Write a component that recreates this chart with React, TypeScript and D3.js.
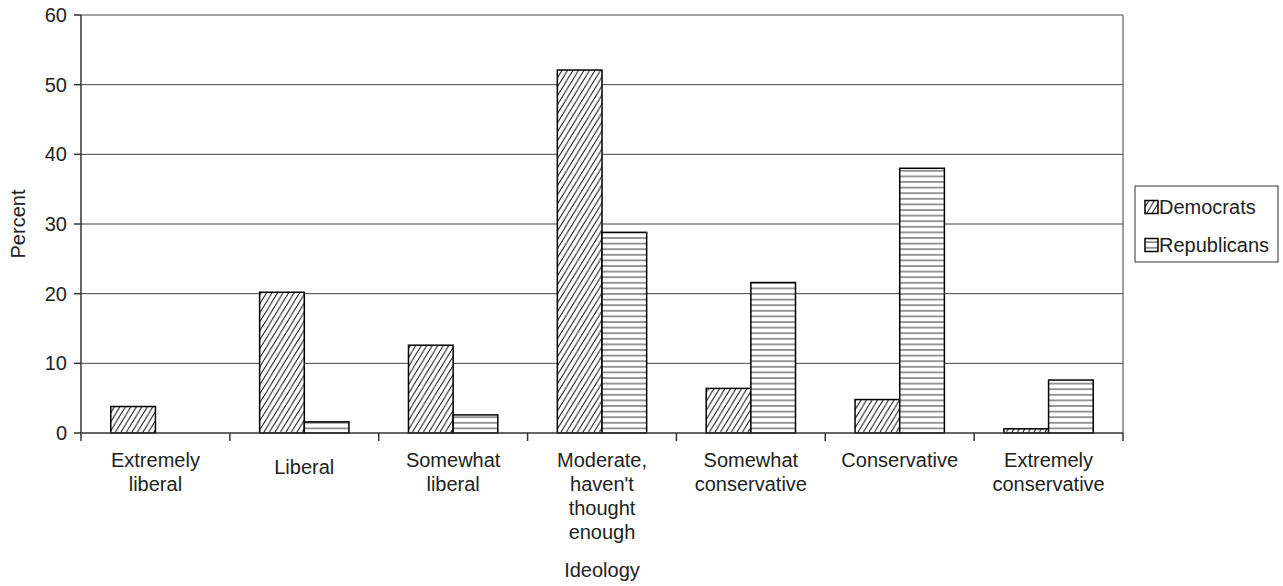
import React from 'react';
import * as d3 from 'd3';

// ideology categories, each label split into its wrapped lines
const categories = [
  'Extremely liberal',
  'Liberal',
  'Somewhat liberal',
  "Moderate, haven't thought enough",
  'Somewhat conservative',
  'Conservative',
  'Extremely conservative'
];
const categoryLines = [
  ['Extremely', 'liberal'],
  ['Liberal'],
  ['Somewhat', 'liberal'],
  ['Moderate,', "haven't", 'thought', 'enough'],
  ['Somewhat', 'conservative'],
  ['Conservative'],
  ['Extremely', 'conservative']
];
const seriesNames = ['Democrats', 'Republicans'];
const democrats = [3.8, 20.2, 12.6, 52.1, 6.4, 4.8, 0.6];
const republicans = [0, 1.6, 2.6, 28.8, 21.6, 38.0, 7.6];
const yTicks = [0, 10, 20, 30, 40, 50, 60];

const W = 1283;
const H = 586;
const margin = { left: 81, right: 160, top: 15, bottom: 153 };
const FONT = 'Liberation Sans, Arial, sans-serif';

const App: React.FC = () => {
  const x = d3.scaleBand<string>()
    .domain(categories)
    .range([margin.left, W - margin.right])
    .paddingInner(0)
    .paddingOuter(0);

  const xSeries = d3.scaleBand<string>()
    .domain(seriesNames)
    .range([0, x.bandwidth()])
    .paddingInner(0)
    .paddingOuter(2 / 3);

  const y = d3.scaleLinear()
    .domain([0, 60])
    .range([H - margin.bottom, margin.top]);

  const x0 = margin.left;
  const x1 = W - margin.right;
  const y0 = y(0);

  const values = [democrats, republicans];
  const fills = ['url(#hatch-diag)', 'url(#hatch-horiz)'];

  // single-line labels sit a little lower in the original
  const labelShift: Record<string, number> = { Liberal: 7 };

  return (
    <svg width={W} height={H} style={{ position: 'absolute', left: 0, top: 0, background: '#fff' }}
      fontFamily={FONT}>
      <defs>
        <pattern id="hatch-diag" patternUnits="userSpaceOnUse" width={5.5} height={9}>
          <rect width={5.5} height={9} fill="#fff" />
          <path d="M0,9 L5.5,0 M-5.5,9 L0,0 M5.5,9 L11,0" stroke="#111" strokeWidth={1} />
        </pattern>
        <pattern id="hatch-horiz" patternUnits="userSpaceOnUse" width={8} height={5.6}>
          <rect width={8} height={5.6} fill="#fff" />
          <line x1={0} x2={8} y1={2.8} y2={2.8} stroke="#333" strokeWidth={1} />
        </pattern>
      </defs>

      {/* gridlines */}
      {yTicks.filter(t => t > 0).map(t => (
        <line key={t} x1={x0} x2={x1} y1={y(t)} y2={y(t)} stroke="#444" strokeWidth={1} />
      ))}
      {/* right frame */}
      <line x1={x1} x2={x1} y1={y(60)} y2={y0} stroke="#444" strokeWidth={1} />

      {/* bars */}
      {values.map((vals, si) =>
        vals.map((v, ci) => {
          const bx = (x(categories[ci]) ?? 0) + (xSeries(seriesNames[si]) ?? 0);
          if (v <= 0) return null;
          return (
            <rect key={`${si}-${ci}`} x={bx} y={y(v)} width={xSeries.bandwidth()} height={y0 - y(v)}
              fill={fills[si]} stroke="#000" strokeWidth={1.5} />
          );
        })
      )}

      {/* y axis */}
      <line x1={x0} x2={x0} y1={y(60)} y2={y0} stroke="#333" strokeWidth={1.5} />
      {yTicks.map(t => (
        <g key={t}>
          <line x1={x0 - 7} x2={x0} y1={y(t)} y2={y(t)} stroke="#333" strokeWidth={1.5} />
          <text x={x0 - 14} y={y(t)} dy="0.35em" textAnchor="end" fontSize={20} fill="#222">{t}</text>
        </g>
      ))}

      {/* x axis */}
      <line x1={x0} x2={x1} y1={y0} y2={y0} stroke="#333" strokeWidth={1.5} />
      {categories.map(c => (
        <line key={c} x1={x(c)} x2={x(c)} y1={y0} y2={y0 + 8} stroke="#333" strokeWidth={1.5} />
      ))}
      <line x1={x1} x2={x1} y1={y0} y2={y0 + 8} stroke="#333" strokeWidth={1.5} />

      {categories.map((c, i) => (
        <text key={c} textAnchor="middle" fontSize={20} fill="#222">
          {categoryLines[i].map((ln, li) => (
            <tspan key={li} x={(x(c) ?? 0) + x.bandwidth() / 2}
              y={y0 + 34 + li * 24 + (categoryLines[i].length === 1 ? (labelShift[ln] ?? 0) : 0)}>
              {ln}
            </tspan>
          ))}
        </text>
      ))}

      <text x={(x0 + x1) / 2} y={577} textAnchor="middle" fontSize={20} fill="#222">Ideology</text>
      <text transform={`translate(25,${(y(0) + y(60)) / 2}) rotate(-90)`} textAnchor="middle"
        fontSize={20} fill="#222">Percent</text>

      {/* legend */}
      <g>
        <rect x={1135} y={186} width={143} height={76} fill="#fff" stroke="#333" strokeWidth={1} />
        {seriesNames.map((s, i) => (
          <g key={s} transform={`translate(1145,${207 + i * 38})`}>
            <rect x={0} y={-6.5} width={13} height={13} fill={fills[i]} stroke="#000" strokeWidth={1.5} />
            <text x={14} y={0} dy="0.35em" fontSize={20} fill="#222">{s}</text>
          </g>
        ))}
      </g>
    </svg>
  );
};

export default App;
